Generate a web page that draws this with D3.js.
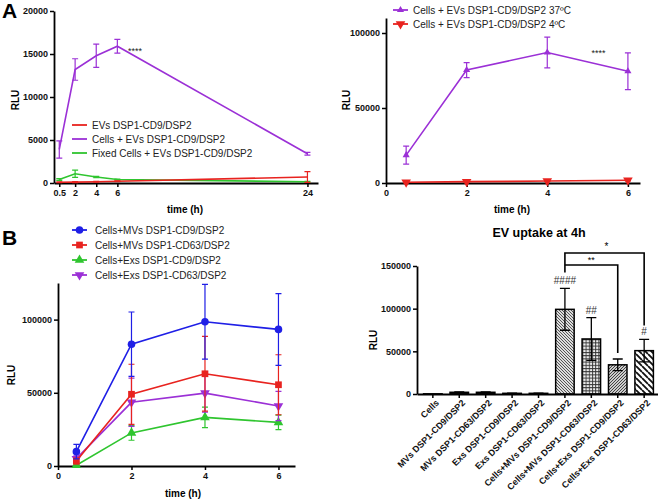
<!DOCTYPE html>
<html><head><meta charset="utf-8">
<script src="https://cdn.jsdelivr.net/npm/d3@7"></script>
<style>body{margin:0;background:#fff} svg{display:block} text{font-family:"Liberation Sans",Arial,sans-serif}</style>
</head><body><svg id="c" width="658" height="500"></svg>
<script>
// ---------- Panel A (left) ----------
const a1Time = [0.5, 2, 4, 6, 24];
const a1EVs = [80, 100, 150, 200, 700];
const a1EVsErr = [50, 50, 50, 50, 620];
const a1Cells = [3900, 13200, 14800, 15900, 3400];
const a1CellsErr = [1000, 1250, 1350, 800, 150];
const a1Fixed = [400, 1080, 700, 400, 150];
const a1FixedErr = [100, 420, 80, 50, 50];
const a1Names = ["EVs DSP1-CD9/DSP2", "Cells + EVs DSP1-CD9/DSP2", "Fixed Cells + EVs DSP1-CD9/DSP2"];
const a1XTicks = [0.5, 2, 4, 6, 24];
const a1YTicks = [0, 5000, 10000, 15000, 20000];

// ---------- Panel A (right) ----------
const a2Time = [0.5, 2, 4, 6];
const a2Warm = [18600, 75300, 87000, 74500];
const a2WarmErr = [6000, 5000, 10200, 12200];
const a2Cold = [500, 900, 1300, 1800];
const a2ColdErr = [300, 300, 300, 400];
const a2Names = ["Cells + EVs DSP1-CD9/DSP2 37ºC", "Cells + EVs DSP1-CD9/DSP2 4ºC"];
const a2XTicks = [0, 2, 4, 6];
const a2YTicks = [0, 50000, 100000];

// ---------- Panel B (left) ----------
const bTime = [0.5, 2, 4, 6];
const bMVsCD9 = [9800, 83200, 98500, 93300];
const bMVsCD9Err = [5000, 22000, 25500, 24500];
const bMVsCD63 = [3400, 49000, 63000, 55500];
const bMVsCD63Err = [2000, 20500, 25500, 20500];
const bExsCD9 = [500, 22600, 33200, 29800];
const bExsCD9Err = [500, 5000, 7000, 5000];
const bExsCD63 = [5000, 43500, 49800, 41000];
const bExsCD63Err = [2000, 16500, 13000, 10000];
const bNames = ["Cells+MVs DSP1-CD9/DSP2", "Cells+MVs DSP1-CD63/DSP2", "Cells+Exs DSP1-CD9/DSP2", "Cells+Exs DSP1-CD63/DSP2"];
const bXTicks = [0, 2, 4, 6];
const bYTicks = [0, 50000, 100000];

// ---------- Panel B (right) bar chart ----------
const barCats = ["Cells", "MVs DSP1-CD9/DSP2", "MVs DSP1-CD63/DSP2", "Exs DSP1-CD9/DSP2", "Exs DSP1-CD63/DSP2",
  "Cells+MVs DSP1-CD9/DSP2", "Cells+MVs DSP1-CD63/DSP2", "Cells+Exs DSP1-CD9/DSP2", "Cells+Exs DSP1-CD63/DSP2"];
const barVals = [200, 2000, 2000, 800, 800, 99200, 64500, 34200, 50800];
const barErr = [0, 400, 400, 200, 200, 24500, 25000, 6800, 13200];
const barMarks = ["", "", "", "", "", "####", "##", "", "#"];
const barYTicks = [0, 50000, 100000, 150000];
const barTitle = "EV uptake at 4h";

const PURPLE = "#9b30d6", RED = "#e8231f", GREEN = "#2fc52f", BLUE = "#1f1fe6";

const svg = d3.select("#c");
svg.append("rect").attr("width", 658).attr("height", 500).attr("fill", "#fff");

// patterns
const defs = svg.append("defs");
function pat(id, size, draw, bg) {
  const p = defs.append("pattern").attr("id", id).attr("patternUnits", "userSpaceOnUse")
    .attr("width", size).attr("height", size);
  p.append("rect").attr("width", size).attr("height", size).attr("fill", bg || "#fff");
  draw(p, size);
}
pat("p1", 3, (p, s) => { p.append("path").attr("d", `M0,0L${s},${s}M${-s},0L0,${s}M0,${-s}L${s},0`).attr("stroke", "#444").attr("stroke-width", 0.9); }, "#ddd");
pat("p2", 3.2, (p, s) => { p.append("path").attr("d", `M0,0.5H${s}M0.5,0V${s}`).attr("stroke", "#333").attr("stroke-width", 0.9); }, "#eee");
pat("p3", 3, (p, s) => { p.append("path").attr("d", `M0,${s}L${s},0M${-s},${s}L0,0M${s},${2*s}L${2*s},${s}`).attr("stroke", "#333").attr("stroke-width", 0.9); }, "#ccc");
pat("p4", 6, (p, s) => { p.append("path").attr("d", `M0,0L${s},${s}M${-s},0L0,${s}M0,${-s}L${s},0`).attr("stroke", "#111").attr("stroke-width", 1.8); }, "#fff");
const barFills = ["#fff", "#111", "#111", "#111", "#111", "url(#p1)", "url(#p2)", "url(#p3)", "url(#p4)"];

function styleAxis(g) {
  g.selectAll("path.domain").attr("stroke", "#000").attr("stroke-width", 1.8);
  g.selectAll(".tick line").attr("stroke", "#000").attr("stroke-width", 1.5);
  g.selectAll(".tick text").attr("font-family", "Liberation Sans, Arial, sans-serif")
    .attr("font-weight", "bold").attr("font-size", 9).attr("fill", "#111");
}

function lineChart(cfg) {
  const x = d3.scaleLinear().domain(cfg.xDomain).range(cfg.xRange);
  const y = d3.scaleLinear().domain(cfg.yDomain).range(cfg.yRange);
  const gx = svg.append("g").attr("transform", `translate(0,${cfg.yRange[0]})`)
    .call(d3.axisBottom(x).tickValues(cfg.xTicks).tickSize(4).tickSizeOuter(0).tickPadding(3).tickFormat(d => d));
  styleAxis(gx);
  const gy = svg.append("g").attr("transform", `translate(${cfg.xRange[0]},0)`)
    .call(d3.axisLeft(y).tickValues(cfg.yTicks).tickSize(4).tickSizeOuter(0).tickPadding(2).tickFormat(d3.format("d")));
  styleAxis(gy);
  cfg.series.forEach(s => {
    const g = svg.append("g");
    const pts = cfg.time.map((t, i) => ({ t, v: s.vals[i], e: s.err[i] }));
    pts.forEach(p => {
      const cx = x(p.t), y1 = y(p.v + p.e), y0 = y(Math.max(0, p.v - p.e));
      g.append("path").attr("d", `M${cx},${y0}V${y1}M${cx - 3},${y1}H${cx + 3}M${cx - 3},${y0}H${cx + 3}`)
        .attr("stroke", s.color).attr("stroke-width", 1.2).attr("fill", "none");
    });
    g.append("path").datum(pts).attr("d", d3.line().x(p => x(p.t)).y(p => y(p.v)))
      .attr("fill", "none").attr("stroke", s.color).attr("stroke-width", 1.6);
    if (s.symbol) {
      g.selectAll(".m").data(pts).join("path")
        .attr("transform", p => `translate(${x(p.t)},${y(p.v)})${s.rot ? " rotate(180)" : ""}`)
        .attr("d", d3.symbol().type(s.symbol).size(s.size || 40)).attr("fill", s.color);
    }
  });
  // legend
  cfg.series.forEach((s, i) => {
    const ly = cfg.legend.y[i];
    const sx = cfg.legend.x;
    const lg = svg.append("g");
    lg.append("line").attr("x1", sx).attr("x2", sx + 15).attr("y1", ly).attr("y2", ly)
      .attr("stroke", s.color).attr("stroke-width", 1.8);
    if (s.symbol) lg.append("path").attr("transform", `translate(${sx + 7.5},${ly})${s.rot ? " rotate(180)" : ""}`)
      .attr("d", d3.symbol().type(s.symbol).size(s.size || 40)).attr("fill", s.color);
    lg.append("text").attr("x", cfg.legend.tx).attr("y", ly).attr("dy", "0.35em")
      .attr("font-size", 10).attr("fill", "#222").text(s.name);
  });
  // axis titles
  svg.append("text").attr("x", cfg.xTitle[0]).attr("y", cfg.xTitle[1]).attr("text-anchor", "middle")
    .attr("font-weight", "bold").attr("font-size", 10).text("time (h)");
  svg.append("text").attr("transform", `translate(${cfg.yTitle[0]},${cfg.yTitle[1]}) rotate(-90)`)
    .attr("text-anchor", "middle").attr("font-weight", "bold").attr("font-size", 10).text("RLU");
  if (cfg.stars) svg.append("text").attr("x", x(cfg.stars[0])).attr("y", y(cfg.stars[1]))
    .attr("font-size", 9).attr("fill", "#222").text("****");
  return { x, y };
}

// Panel A left
lineChart({
  xDomain: [0, 25], xRange: [54, 318], yDomain: [0, 20000], yRange: [183, 11],
  xTicks: a1XTicks, yTicks: a1YTicks, time: a1Time,
  series: [
    { name: a1Names[2], vals: a1Fixed, err: a1FixedErr, color: GREEN },
    { name: a1Names[1], vals: a1Cells, err: a1CellsErr, color: PURPLE },
    { name: a1Names[0], vals: a1EVs, err: a1EVsErr, color: RED }
  ],
  legend: { x: 72, tx: 92, y: [153, 139, 125] },
  xTitle: [185, 213], yTitle: [19, 100], stars: [7, 15000]
});

// Panel A right
lineChart({
  xDomain: [0, 6.3], xRange: [386, 640], yDomain: [0, 110000], yRange: [183, 18],
  xTicks: a2XTicks, yTicks: a2YTicks, time: a2Time,
  series: [
    { name: a2Names[0], vals: a2Warm, err: a2WarmErr, color: PURPLE, symbol: d3.symbolTriangle, size: 22 },
    { name: a2Names[1], vals: a2Cold, err: a2ColdErr, color: RED, symbol: d3.symbolTriangle, size: 40, rot: true }
  ],
  legend: { x: 393, tx: 413, y: [10, 24] },
  xTitle: [512, 213], yTitle: [350, 100], stars: [5.1, 84500]
});

// Panel B left
lineChart({
  xDomain: [0, 6.45], xRange: [58, 295], yDomain: [0, 125000], yRange: [466, 283],
  xTicks: bXTicks, yTicks: bYTicks, time: bTime,
  series: [
    { name: bNames[2], vals: bExsCD9, err: bExsCD9Err, color: GREEN, symbol: d3.symbolTriangle, size: 40 },
    { name: bNames[3], vals: bExsCD63, err: bExsCD63Err, color: PURPLE, symbol: d3.symbolTriangle, size: 40, rot: true },
    { name: bNames[1], vals: bMVsCD63, err: bMVsCD63Err, color: RED, symbol: d3.symbolSquare, size: 45 },
    { name: bNames[0], vals: bMVsCD9, err: bMVsCD9Err, color: BLUE, symbol: d3.symbolCircle, size: 45 }
  ],
  legend: { x: 72, tx: 95, y: [260, 275, 245, 230] },
  xTitle: [183, 497], yTitle: [15, 375]
});

// Panel letters
svg.append("text").attr("x", 2).attr("y", 18).attr("font-family", "Liberation Serif, Times New Roman, serif")
  .attr("font-weight", "bold").attr("font-size", 21).text("A");
svg.append("text").attr("x", 2).attr("y", 245).attr("font-family", "Liberation Serif, Times New Roman, serif")
  .attr("font-weight", "bold").attr("font-size", 21).text("B");

// Bar chart
const bx = d3.scaleBand().domain(barCats).range([417, 660]).paddingInner(0.3).paddingOuter(0.25);
const by = d3.scaleLinear().domain([0, 150000]).range([394, 266]);
const bars = svg.append("g");
barCats.forEach((c, i) => {
  const x0 = bx(c), w = bx.bandwidth();
  const yt = by(barVals[i]);
  bars.append("rect").attr("x", x0).attr("y", yt).attr("width", w).attr("height", Math.max(0.1, 394 - yt))
    .attr("fill", barFills[i]).attr("stroke", "#000").attr("stroke-width", 1.5);
  if (barErr[i] > 0) {
    const cx = x0 + w / 2, y1 = by(barVals[i] + barErr[i]), y0 = by(barVals[i] - barErr[i]);
    bars.append("path").attr("d", `M${cx},${y0}V${y1}M${cx - 5},${y1}H${cx + 5}M${cx - 5},${y0}H${cx + 5}`)
      .attr("stroke", "#000").attr("stroke-width", 1.3).attr("fill", "none");
    if (barMarks[i]) bars.append("text").attr("x", cx).attr("y", y1 - 4).attr("text-anchor", "middle")
      .attr("font-size", 10).attr("fill", "#333").text(barMarks[i]);
  }
});
const bgx = svg.append("g").attr("transform", "translate(0,394)")
  .call(d3.axisBottom(bx).tickSize(4).tickSizeOuter(0).tickPadding(3));
styleAxis(bgx);
bgx.selectAll(".tick text").attr("text-anchor", "end").attr("font-size", 9)
  .attr("transform", "translate(3,3) rotate(-45)").attr("dy", "0.35em").attr("y", 4).attr("x", -2);
const bgy = svg.append("g").attr("transform", "translate(417,0)")
  .call(d3.axisLeft(by).tickValues(barYTicks).tickSize(4).tickSizeOuter(0).tickPadding(2).tickFormat(d3.format("d")));
styleAxis(bgy);
svg.append("text").attr("transform", "translate(377,340) rotate(-90)").attr("text-anchor", "middle")
  .attr("font-weight", "bold").attr("font-size", 10).text("RLU");
svg.append("text").attr("x", 539).attr("y", 237).attr("text-anchor", "middle")
  .attr("font-weight", "bold").attr("font-size", 12.5).text(barTitle);

// significance brackets
const c5 = bx(barCats[5]) + bx.bandwidth() / 2, c7 = bx(barCats[7]) + bx.bandwidth() / 2, c8 = bx(barCats[8]) + bx.bandwidth() / 2;
const topTip = by(barVals[5] + barErr[5]) - 16;
svg.append("path").attr("d", `M${c5},${topTip}V253H${c8}V${by(barVals[8] + barErr[8]) - 14}`)
  .attr("fill", "none").attr("stroke", "#000").attr("stroke-width", 1.6);
svg.append("path").attr("d", `M${c5},265H${c7}V${by(barVals[7] + barErr[7]) - 6}`)
  .attr("fill", "none").attr("stroke", "#000").attr("stroke-width", 1.6);
svg.append("text").attr("x", (c5 + c8) / 2 + 2).attr("y", 250).attr("text-anchor", "middle").attr("font-size", 10).text("*");
svg.append("text").attr("x", (c5 + c7) / 2).attr("y", 263).attr("text-anchor", "middle").attr("font-size", 9).text("**");
</script></body></html>
